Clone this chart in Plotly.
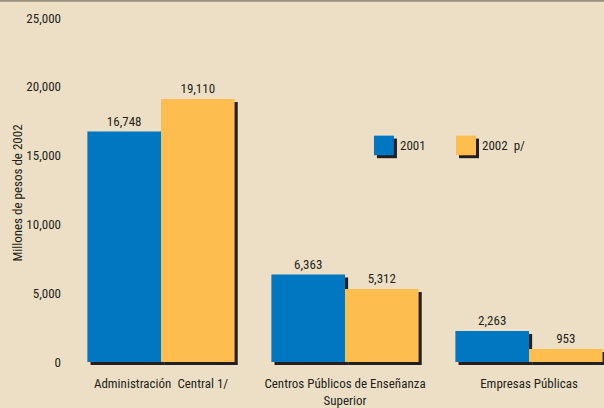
import plotly.graph_objects as go

categories = ["Administración\u00a0 Central 1/", "Centros Públicos de Enseñanza<br>Superior", "Empresas Públicas"]
series_names = ["2001", "2002 p/"]
values_2001 = [16748, 6363, 2263]
values_2002 = [19110, 5312, 953]
y_ticks = [0, 5000, 10000, 15000, 20000, 25000]

BG = "#EDDFC5"
BLUE = "#0077C0"
ORANGE = "#FDBD4F"
SHADOW = "#231F20"
TXT = "#231F20"
FONT = "Roboto Condensed, DejaVu Sans Condensed, sans-serif"

W = 0.4
SHX = 0.017      # shadow shift in category units (~3px)
SHY = -214       # shadow shift in value units (~3px)

fig = go.Figure()
# shadows
for vals, off in [(values_2001, -W), (values_2002, 0.0)]:
    fig.add_trace(go.Bar(x=categories, y=vals, base=SHY, width=W, offset=off + SHX,
                         marker=dict(color=SHADOW, line=dict(width=0)),
                         hoverinfo="skip", showlegend=False))
# bars
for vals, off, col, name in [(values_2001, -W, BLUE, series_names[0]),
                             (values_2002, 0.0, ORANGE, series_names[1])]:
    fig.add_trace(go.Bar(x=categories, y=vals, width=W, offset=off, name=name,
                         marker=dict(color=col, line=dict(width=0)),
                         texttemplate="%{y:,}", textposition="outside",
                         textfont=dict(family=FONT, size=13, color=TXT),
                         cliponaxis=False, showlegend=False))

# custom legend
legend_items = [(0.570, BLUE, series_names[0]), (0.7234, ORANGE, series_names[1])]
shapes = []
annotations = []
sq_w, sq_h = 20 / 535, 20 / 357
y0 = (375 - 158) / 357
for x0, col, name in legend_items:
    shapes.append(dict(type="rect", xref="paper", yref="paper",
                       x0=x0 + 3 / 535, x1=x0 + sq_w + 3 / 535, y0=y0 - 3 / 357, y1=y0 + sq_h - 3 / 357,
                       fillcolor=SHADOW, line=dict(width=0), layer="above"))
    shapes.append(dict(type="rect", xref="paper", yref="paper",
                       x0=x0, x1=x0 + sq_w, y0=y0, y1=y0 + sq_h,
                       fillcolor=col, line=dict(width=0), layer="above"))
    annotations.append(dict(xref="paper", yref="paper", x=x0 + 24 / 535, y=y0 + sq_h / 2,
                            xanchor="left", yanchor="middle", showarrow=False,
                            text=name.replace(" ", "\u00a0 "),
                            font=dict(family=FONT, size=13, color=TXT)))
# top border line
shapes.append(dict(type="line", xref="paper", yref="paper", x0=-0.2, x1=1.0,
                   y0=(375 - 0.5) / 357, y1=(375 - 0.5) / 357,
                   line=dict(color="#9A917F", width=2)))

fig.update_layout(
    width=604, height=408,
    margin=dict(l=69, r=0, t=18, b=33),
    paper_bgcolor=BG, plot_bgcolor=BG,
    barmode="overlay",
    showlegend=False,
    shapes=shapes, annotations=annotations,
    font=dict(family=FONT, size=13, color=TXT),
    xaxis=dict(type="category", range=[-0.5, -0.5 + 535 / 184], showgrid=False,
               zeroline=False, showline=False, ticks="",
               tickfont=dict(family=FONT, size=13, color=TXT), ticklabelstandoff=6),
    yaxis=dict(range=[-430, 25000], tickvals=y_ticks, tickformat=",",
               showgrid=False, zeroline=False, showline=False, ticks="",
               ticklabelstandoff=7,
               tickfont=dict(family=FONT, size=13, color=TXT),
               title=dict(text="Millones de pesos de 2002", standoff=0,
                          font=dict(family=FONT, size=13, color=TXT))),
)

fig.write_html("out.html", config={"displayModeBar": False},
               post_script="document.body.style.margin='0';")
